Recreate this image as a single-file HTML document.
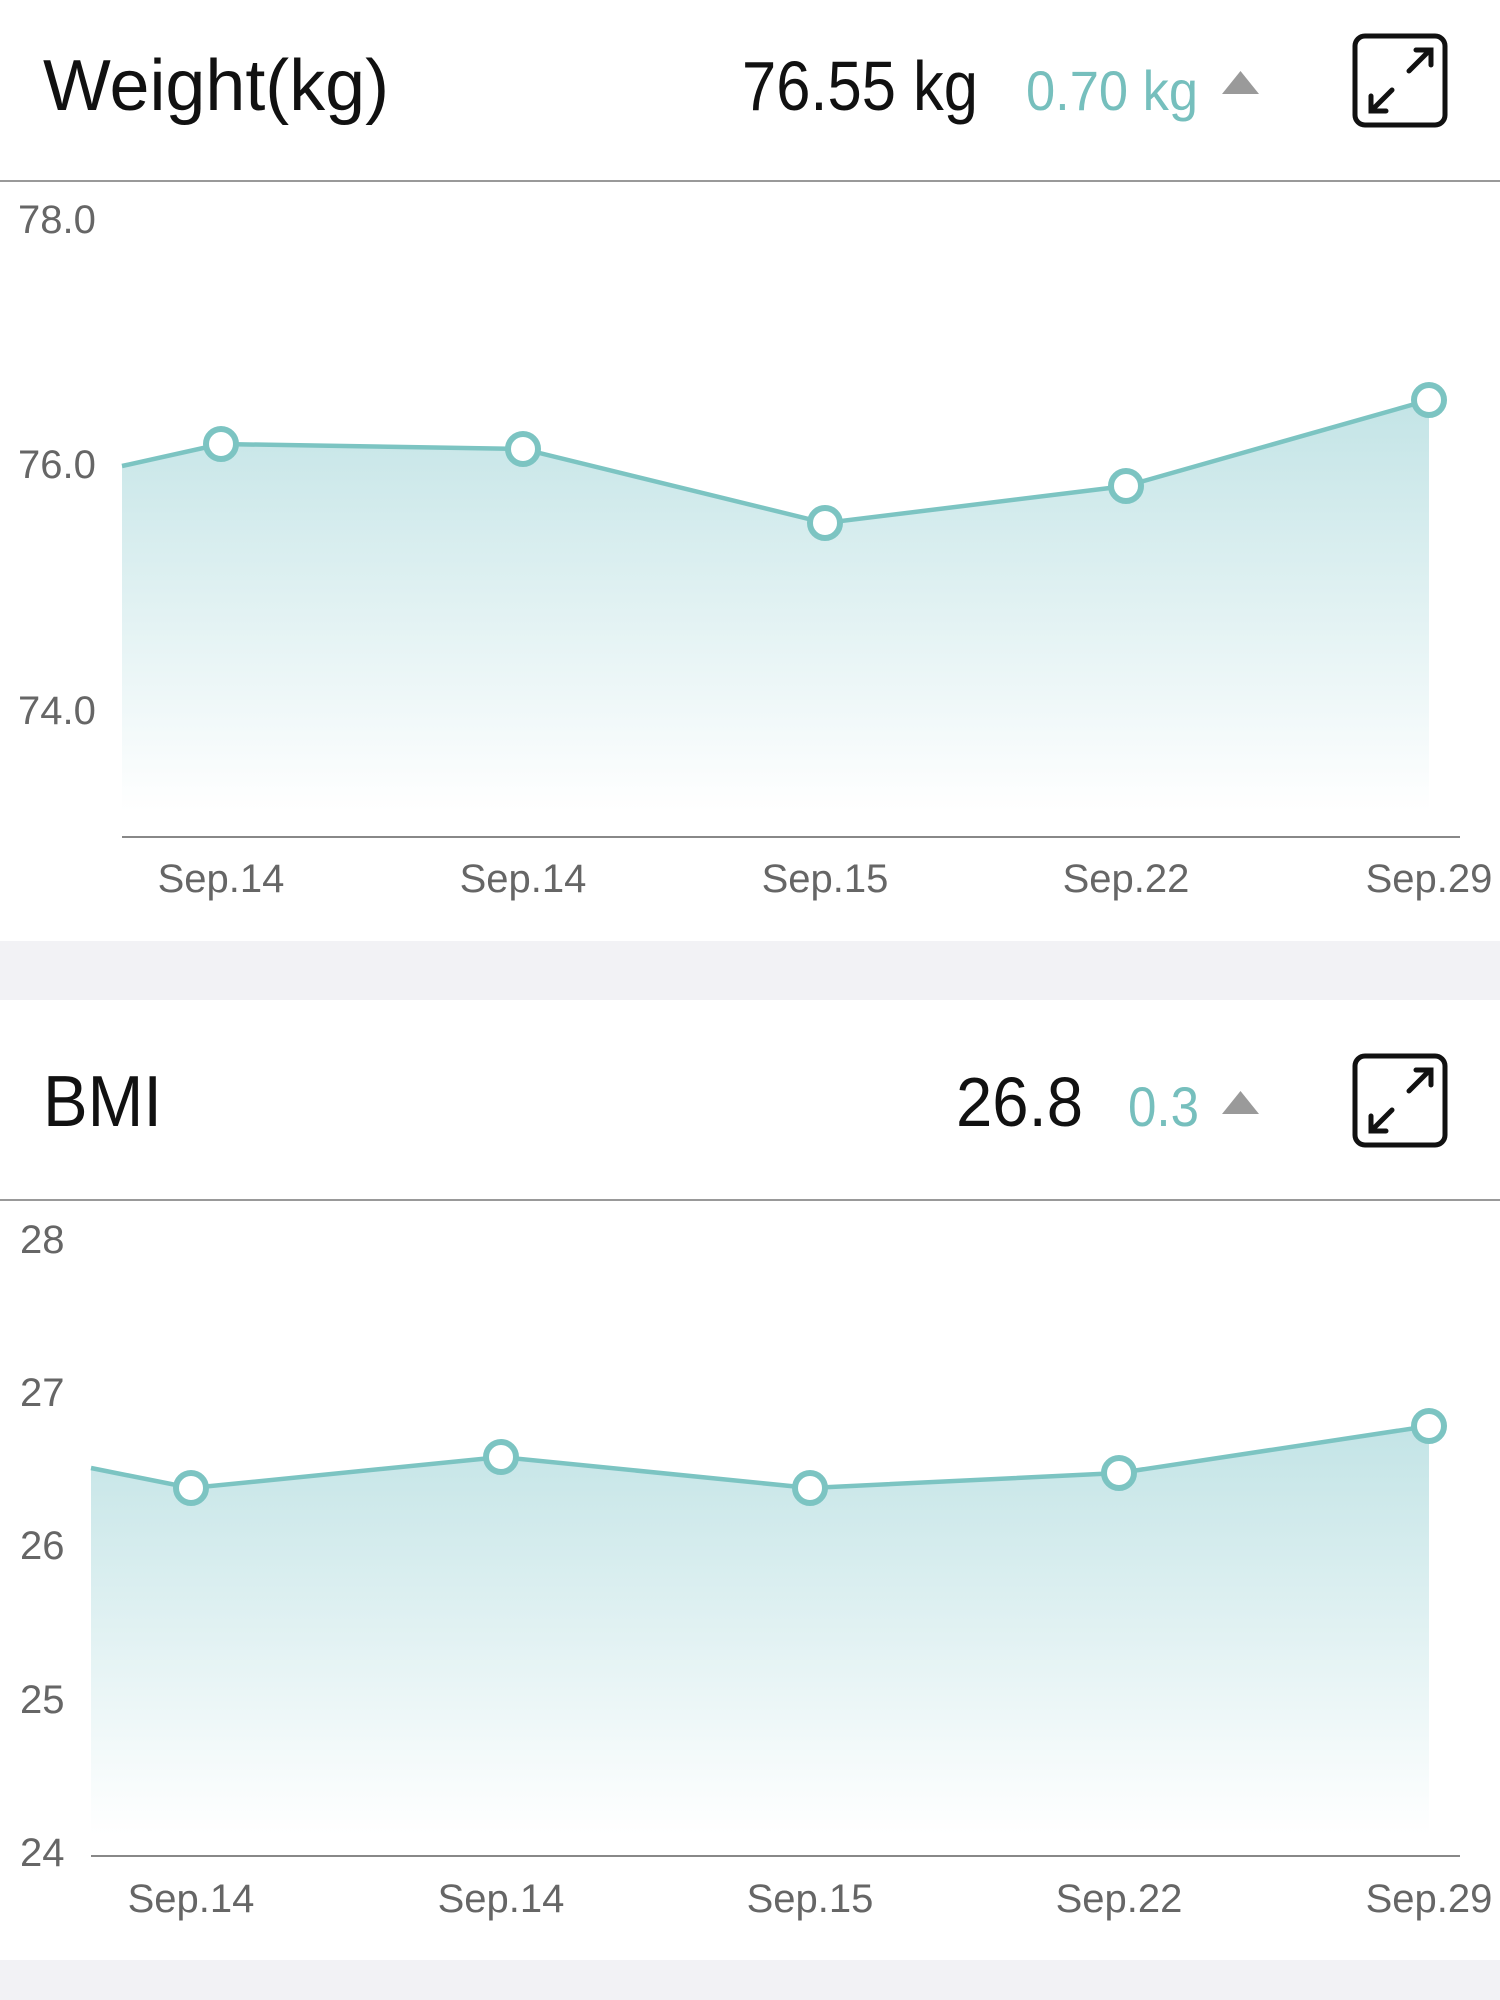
<!DOCTYPE html>
<html><head><meta charset="utf-8"><style>
html,body{margin:0;padding:0;background:#fff;}
svg{display:block;}
</style></head><body>
<svg width="1500" height="2000" viewBox="0 0 1500 2000" xmlns="http://www.w3.org/2000/svg" font-family="Liberation Sans, sans-serif">
<defs>
<linearGradient id="g1" x1="0" y1="0" x2="0" y2="1">
<stop offset="0" stop-color="#c3e4e6"/><stop offset="1" stop-color="#ffffff"/>
</linearGradient>
</defs>
<rect width="1500" height="2000" fill="#fff"/>
<rect x="0" y="941" width="1500" height="59" fill="#f2f2f5"/>
<rect x="0" y="1960" width="1500" height="40" fill="#f2f2f5"/>

<text x="43" y="110" font-size="72" fill="#111" textLength="346" lengthAdjust="spacingAndGlyphs">Weight(kg)</text>
<text x="742" y="110" font-size="70" fill="#111" textLength="236" lengthAdjust="spacingAndGlyphs">76.55 kg</text>
<text x="1026" y="110" font-size="56" fill="#76bfbd" textLength="172" lengthAdjust="spacingAndGlyphs">0.70 kg</text>
<polygon points="1222,94 1259,94 1240.5,71" fill="#9a9a9a"/>
<g stroke="#111" stroke-width="5" fill="none" stroke-linecap="round">
<rect x="1355" y="36" width="90" height="89" rx="10"/>
<path d="M1409,71 L1430,50 M1416,50 L1431,50 L1431,65"/>
<path d="M1392,90 L1371,111 M1371,96 L1371,111 L1386,111"/>
</g>
<line x1="0" y1="181" x2="1500" y2="181" stroke="#999" stroke-width="2"/>

<g font-size="40" fill="#666">
<text x="18" y="233">78.0</text>
<text x="18" y="478">76.0</text>
<text x="18" y="724">74.0</text>
</g>
<path d="M122,466 L221,444 L523,449 L825,523 L1126,486 L1429,400 L1429,812 L122,812 Z" fill="url(#g1)"/>
<polyline points="122,466 221,444 523,449 825,523 1126,486 1429,400" fill="none" stroke="#7cc4c2" stroke-width="4.5"/>
<g fill="#fff" stroke="#7cc4c2" stroke-width="6">
<circle cx="221" cy="444" r="15"/><circle cx="523" cy="449" r="15"/><circle cx="825" cy="523" r="15"/><circle cx="1126" cy="486" r="15"/><circle cx="1429" cy="400" r="15"/>
</g>
<line x1="122" y1="837" x2="1460" y2="837" stroke="#888" stroke-width="2"/>
<g font-size="40" fill="#666" text-anchor="middle">
<text x="221" y="892">Sep.14</text><text x="523" y="892">Sep.14</text><text x="825" y="892">Sep.15</text><text x="1126" y="892">Sep.22</text><text x="1429" y="892">Sep.29</text>
</g>

<text x="43" y="1126" font-size="72" fill="#111" textLength="119" lengthAdjust="spacingAndGlyphs">BMI</text>
<text x="956" y="1126" font-size="70" fill="#111" textLength="127" lengthAdjust="spacingAndGlyphs">26.8</text>
<text x="1128" y="1126" font-size="56" fill="#76bfbd" textLength="71" lengthAdjust="spacingAndGlyphs">0.3</text>
<polygon points="1222,1114 1259,1114 1240.5,1091" fill="#9a9a9a"/>
<g stroke="#111" stroke-width="5" fill="none" stroke-linecap="round">
<rect x="1355" y="1056" width="90" height="89" rx="10"/>
<path d="M1409,1091 L1430,1070 M1416,1070 L1431,1070 L1431,1085"/>
<path d="M1392,1110 L1371,1131 M1371,1116 L1371,1131 L1386,1131"/>
</g>
<line x1="0" y1="1200" x2="1500" y2="1200" stroke="#999" stroke-width="2"/>

<g font-size="40" fill="#666">
<text x="20" y="1253">28</text>
<text x="20" y="1406">27</text>
<text x="20" y="1559">26</text>
<text x="20" y="1713">25</text>
<text x="20" y="1866">24</text>
</g>
<path d="M91,1468 L191,1488 L501,1457 L810,1488 L1119,1473 L1429,1426 L1429,1835 L91,1835 Z" fill="url(#g1)"/>
<polyline points="91,1468 191,1488 501,1457 810,1488 1119,1473 1429,1426" fill="none" stroke="#7cc4c2" stroke-width="4.5"/>
<g fill="#fff" stroke="#7cc4c2" stroke-width="6">
<circle cx="191" cy="1488" r="15"/><circle cx="501" cy="1457" r="15"/><circle cx="810" cy="1488" r="15"/><circle cx="1119" cy="1473" r="15"/><circle cx="1429" cy="1426" r="15"/>
</g>
<line x1="91" y1="1856" x2="1460" y2="1856" stroke="#888" stroke-width="2"/>
<g font-size="40" fill="#666" text-anchor="middle">
<text x="191" y="1912">Sep.14</text><text x="501" y="1912">Sep.14</text><text x="810" y="1912">Sep.15</text><text x="1119" y="1912">Sep.22</text><text x="1429" y="1912">Sep.29</text>
</g>
</svg>
</body></html>
